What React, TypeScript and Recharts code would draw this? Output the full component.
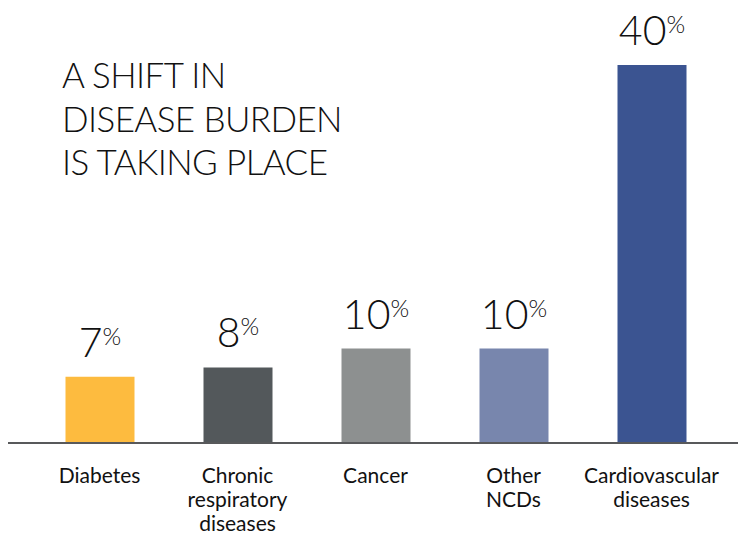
import { BarChart, Bar, XAxis, YAxis, Cell, LabelList } from 'recharts';

const categories = ['Diabetes', 'Chronic\nrespiratory\ndiseases', 'Cancer', 'Other\nNCDs', 'Cardiovascular\ndiseases'];
const shares = [7, 8, 10, 10, 40];
const colors = ['#FDBB3F', '#53585B', '#8D9090', '#7886AD', '#3B5491'];
const titleLines = ['A SHIFT IN', 'DISEASE BURDEN', 'IS TAKING PLACE'];

const data = categories.map((name, i) => ({ name, share: shares[i] }));

const FONT = 'Lato, "Open Sans", sans-serif';

function CategoryTick(props: any) {
  const { x, y, payload } = props;
  const lines = String(payload.value).split('\n');
  return (
    <text x={x} y={y + 32} textAnchor="middle" fontFamily={FONT} fontSize={21} fill="#111">
      {lines.map((l, i) => (
        <tspan key={i} x={x} dy={i === 0 ? 0 : 24}>
          {l}
        </tspan>
      ))}
    </text>
  );
}

function ValueLabel(props: any) {
  const { x, y, width, value } = props;
  return (
    <text x={x + width / 2} y={y - 20} textAnchor="middle" fontFamily={FONT} fontWeight={300} fill="#111">
      <tspan fontSize={41}>{value}</tspan>
      <tspan fontSize={24} dy={-12}>%</tspan>
    </text>
  );
}

export default function App() {
  // la page a une marge de 8px : on la compense pour que le svg couvre toute la fenêtre
  return (
    <div style={{ position: 'relative', width: 746, height: 535, margin: '-8px 0 0 -8px' }}>
      <BarChart width={746} height={535} data={data} margin={{ top: 65, right: 0, bottom: 0, left: 8 }}>
        <XAxis
          dataKey="name"
          height={92}
          padding={{ left: 22.5, right: 25.5 }}
          axisLine={{ stroke: '#58595B', strokeWidth: 2 }}
          tickLine={false}
          interval={0}
          tick={<CategoryTick />}
        />
        <YAxis hide domain={[0, 40]} />
        <Bar dataKey="share" barSize={69} isAnimationActive={false}>
          {data.map((d, i) => (
            <Cell key={d.name} fill={colors[i]} />
          ))}
          <LabelList dataKey="share" content={<ValueLabel />} />
        </Bar>
      </BarChart>
      <div
        style={{
          position: 'absolute',
          left: 62,
          top: 53,
          fontFamily: FONT,
          fontWeight: 300,
          fontSize: 35,
          letterSpacing: -0.6,
          lineHeight: '43.5px',
          color: '#111',
        }}
      >
        {titleLines.map((t) => (
          <div key={t}>{t}</div>
        ))}
      </div>
    </div>
  );
}
